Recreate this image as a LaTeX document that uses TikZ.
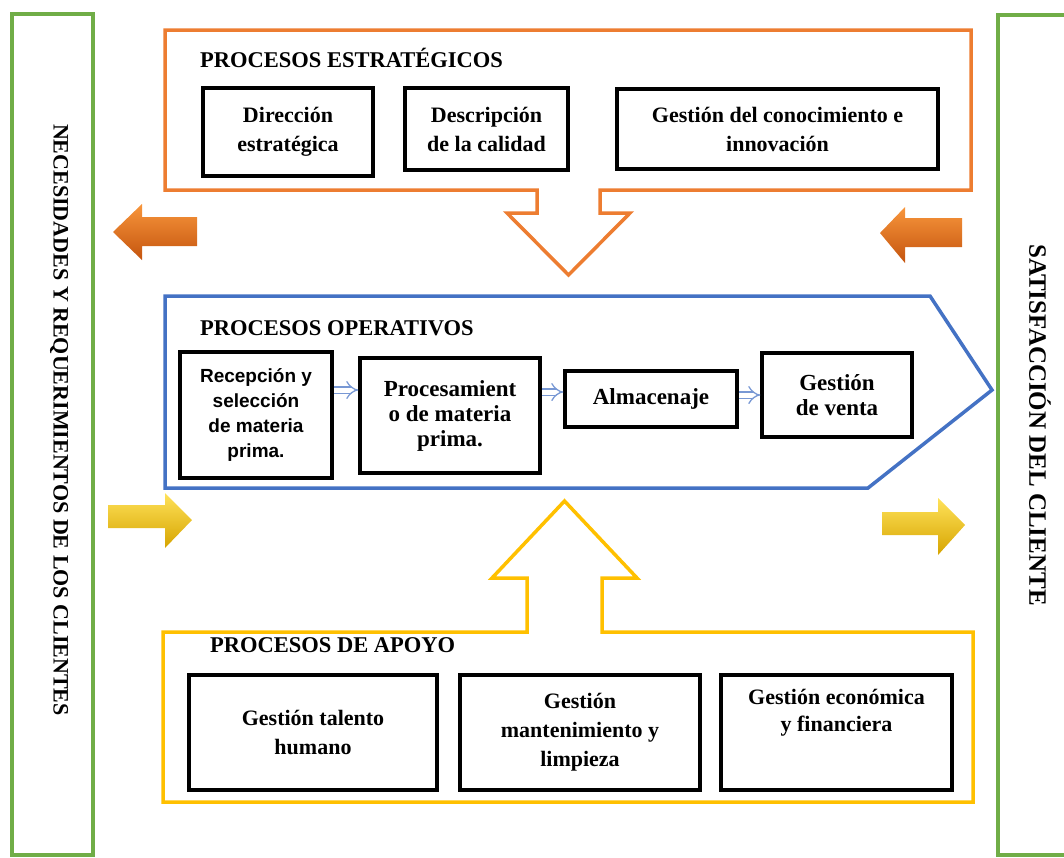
\documentclass[tikz,border=0pt]{standalone}
\usepackage{fontspec}
\setmainfont{Liberation Serif}
\newfontfamily\arialf{Liberation Sans}
\usetikzlibrary{arrows.meta,calc}
\definecolor{cgreen}{RGB}{112,173,71}
\definecolor{corange}{RGB}{237,125,49}
\definecolor{cblue}{RGB}{68,114,196}
\definecolor{cyellow}{RGB}{255,192,0}
\definecolor{carrow}{RGB}{120,152,212}
\definecolor{oatop}{RGB}{248,150,60}
\definecolor{oamid}{RGB}{240,118,28}
\definecolor{oabot}{RGB}{196,84,14}
\definecolor{yatop}{RGB}{255,226,90}
\definecolor{yamid}{RGB}{252,204,10}
\definecolor{yabot}{RGB}{214,164,0}
\tikzset{
  frame/.style={line width=3.5pt, line join=miter},
  gbox/.style={draw=cgreen, line width=4pt},
  pbox/.style={draw=black, line width=3.5pt, fill=white, align=center,
    font=\bfseries\fontsize{22}{29}\selectfont, inner sep=2pt},
  opbox/.style={pbox, font=\bfseries\fontsize{23}{25}\selectfont},
  arbox/.style={pbox, font=\arialf\bfseries\fontsize{19}{25}\selectfont},
  boxtext/.style={align=center, inner sep=0pt, font=\bfseries\fontsize{22}{27}\selectfont},
  ptitle/.style={anchor=west, inner sep=0pt, font=\bfseries\fontsize{22.5}{26}\selectfont},
  vtext/.style={inner sep=0pt, rotate=-90, font=\bfseries\fontsize{22}{26}\selectfont},
  smallarrow/.style={draw=carrow, line width=1.3pt, double=white, double distance=5pt, -{Implies}},
  orangearrow/.style={top color=oatop, middle color=oamid, bottom color=oabot},
  yellowarrow/.style={top color=yatop, middle color=yamid, bottom color=yabot},
}
\begin{document}
\begin{tikzpicture}[x=1pt,y=-1pt]
\useasboundingbox (0,0) rectangle (1064,857);
\clip (0,0) rectangle (1064,857);

% green side boxes
\draw[gbox] (12,14) rectangle (93,855);
\draw[gbox] (998,15) rectangle (1080,855);
\node[vtext] (needs) at (59,420) {NECESIDADES Y REQUERIMIENTOS DE LOS CLIENTES};
\node[vtext, font=\bfseries\fontsize{25}{28}\selectfont] (satisf) at (1040,425) {SATISFACCIÓN DEL CLIENTE};

% strategic frame with down arrow
\draw[frame, draw=corange] (165,30) -- (971,30) -- (971,190) -- (600,190) -- (600,213)
  -- (630,213) -- (568.5,275) -- (507,213) -- (537,213) -- (537,190) -- (165,190) -- cycle;
\node[ptitle] (tstrat) at (200,58) {PROCESOS ESTRATÉGICOS};
\node[pbox, minimum width=170pt, minimum height=88pt] (s1) at (288,132) {Dirección\\estratégica};
\node[pbox, minimum width=163pt, minimum height=82pt] (s2) at (486.5,129) {Descripción\\de la calidad};
\node[pbox, minimum width=321pt, minimum height=80pt] (s3) at (777.5,129) {Gestión del conocimiento e\\innovación};

% operative pentagon
\draw[frame, draw=cblue] (165,296) -- (930,296) -- (992,390) -- (868,488) -- (165,488) -- cycle;
\node[ptitle] (toper) at (200,328) {PROCESOS OPERATIVOS};
\node[arbox, minimum width=152pt, minimum height=126pt] (o1) at (256,415) {Recepción y\\selección\\de materia\\prima.};
\node[opbox, minimum width=180pt, minimum height=115pt] (o2) at (450,415.5) {Procesamient\\o de materia\\prima.};
\node[opbox, minimum width=172pt, minimum height=56pt] (o3) at (651,399) {Almacenaje};
\node[opbox, minimum width=150pt, minimum height=84pt] (o4) at (837,395) {Gestión\\de venta};
\draw[smallarrow] (o1.east |- 0,390) -- (o2.west |- 0,390);
\draw[smallarrow] (o2.east |- 0,392) -- (o3.west |- 0,392);
\draw[smallarrow] (o3.east |- 0,395) -- (o4.west |- 0,395);

% support frame with up arrow
\draw[frame, draw=cyellow] (163,632) -- (527,632) -- (527,578) -- (492,578) -- (564.5,501)
  -- (637,578) -- (602,578) -- (602,632) -- (973,632) -- (973,802) -- (163,802) -- cycle;
\node[ptitle] (tsup) at (210,645) {PROCESOS DE APOYO};
\node[pbox, minimum width=248pt, minimum height=115pt] (a1) at (313,732.5) {Gestión talento\\humano};
\node[pbox, minimum width=240pt, minimum height=115pt] (a2) at (580,732.5) {Gestión\\mantenimiento y\\limpieza};
\node[pbox, minimum width=231pt, minimum height=115pt] (a3) at (836.5,732.5) {};
\node[boxtext] (a3t) at (836.5,713) {Gestión económica\\y financiera};

% 3D block arrows
\shade[orangearrow] (113,232) -- (142,204) -- (142,217) -- (197,217) -- (197,246) -- (142,246) -- (142,260) -- cycle;
\shade[orangearrow] (880,233) -- (905,207) -- (905,218) -- (962,218) -- (962,247) -- (905,247) -- (905,263) -- cycle;
\shade[yellowarrow] (192,520) -- (165,493) -- (165,505) -- (108,505) -- (108,528) -- (165,528) -- (165,548) -- cycle;
\shade[yellowarrow] (965,525) -- (938,498) -- (938,512) -- (882,512) -- (882,535) -- (938,535) -- (938,555) -- cycle;
\end{tikzpicture}
\end{document}
